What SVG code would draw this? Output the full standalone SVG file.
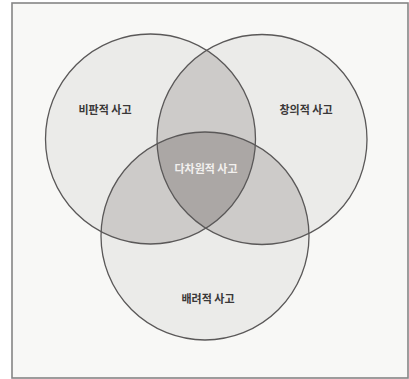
<svg xmlns="http://www.w3.org/2000/svg" width="409" height="379" viewBox="0 0 409 379">
  <style>
    .region { stroke: none; }
    .outline { fill: none; stroke: #5a5858; stroke-width: 1.3; }
    .label { font-family: "Noto Sans CJK KR", "Noto Sans", sans-serif; font-size: 11px; font-weight: 700; fill: #3a3838; text-anchor: middle; }
    .center { fill: #f2f0ee; }
  </style>
  <defs>
    <circle id="c1" cx="150.5" cy="139" r="105"/>
    <circle id="c2" cx="262" cy="139.5" r="105"/>
    <circle id="c3" cx="205" cy="236" r="104"/>
    <clipPath id="clip1"><use href="#c1"/></clipPath>
    <clipPath id="clip2"><use href="#c2"/></clipPath>
    <clipPath id="clip3"><use href="#c3"/></clipPath>
  </defs>
  <rect x="0" y="0" width="409" height="379" fill="#ffffff"/>
  <rect x="12" y="3" width="396" height="375" fill="#f8f8f6" stroke="#858585" stroke-width="1.6"/>
  <g id="fills">
    <use href="#c1" fill="#ebebe9" class="region"/>
    <use href="#c2" fill="#ebebe9" class="region"/>
    <use href="#c3" fill="#ebebe9" class="region"/>
    <g clip-path="url(#clip1)">
      <use href="#c2" fill="#cdcbc9" class="region"/>
      <use href="#c3" fill="#cdcbc9" class="region"/>
    </g>
    <g clip-path="url(#clip2)">
      <use href="#c3" fill="#cdcbc9" class="region"/>
    </g>
    <g clip-path="url(#clip1)">
      <g clip-path="url(#clip2)">
        <use href="#c3" fill="#aba7a5" class="region"/>
      </g>
    </g>
  </g>
  <g id="critical">
    <use href="#c1" class="outline"/>
    <text class="label" x="105" y="114">비판적 사고</text>
  </g>
  <g id="creative">
    <use href="#c2" class="outline"/>
    <text class="label" x="306" y="114">창의적 사고</text>
  </g>
  <g id="caring">
    <use href="#c3" class="outline"/>
    <text class="label" x="208" y="303">배려적 사고</text>
  </g>
  <g id="multidimensional">
    <text class="label center" x="206" y="173">다차원적 사고</text>
  </g>
</svg>
